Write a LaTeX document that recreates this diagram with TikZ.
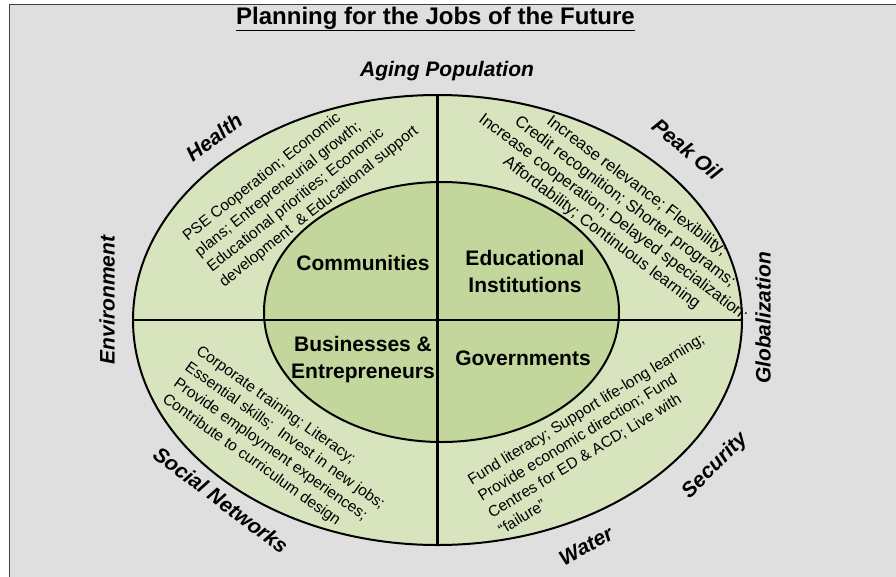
\documentclass[tikz,border=0pt]{standalone}
\usepackage{fontspec}
\setmainfont{Liberation Sans}
\usepackage{tikz}
\usetikzlibrary{shapes.geometric}

\definecolor{bggray}{HTML}{DFDFDF}
\definecolor{ringgreen}{HTML}{D7E4BD}
\definecolor{coregreen}{HTML}{C3D69B}

\tikzset{
	force/.style={font=\fontsize{21}{25}\selectfont\bfseries\itshape},
	actor/.style={font=\fontsize{21}{26.5}\selectfont\bfseries,align=center},
	role/.style={font=\fontsize{15.5}{19.5}\selectfont,inner sep=0pt},
	divider/.style={line width=2.5pt},
}

\begin{document}
\begin{tikzpicture}[x=1pt,y=-1pt]
			\useasboundingbox (0,0) rectangle (896,576);
			\filldraw[fill=bggray,draw=black!75,line width=1.5pt] (9.5,4.5) rectangle (905,585);

			\node[ellipse,draw,line width=2pt,fill=ringgreen,outer sep=0pt,inner sep=0pt,minimum width=609pt,minimum height=450pt] (ring) at (437.5,320) {};
			\node[ellipse,draw,line width=2pt,fill=coregreen,outer sep=0pt,inner sep=0pt,minimum width=355pt,minimum height=260pt] (core) at (441.5,312) {};
			\draw[divider] (ring.north) -- (ring.south);
			\draw[divider] (ring.west) -- (ring.east);

			\node[font=\fontsize{24}{28}\selectfont\bfseries] (title) at (435.5,19) {\underline{Planning for the Jobs of the Future}};

			\node[force] (aging) at (447,71) {Aging Population};
			\node[force,rotate=37] (health) at (214,137) {Health};
			\node[force,rotate=-40] (peakoil) at (687,149) {Peak Oil};
			\node[force,rotate=90] (environment) at (107,300) {Environment};
			\node[force,rotate=90] (globalization) at (763,318) {Globalization};
			\node[force,rotate=-37] (socialnet) at (221,500) {Social Networks};
			\node[force,rotate=29] (water) at (586,546) {Water};
			\node[force,rotate=45] (security) at (715,466) {Security};

			\node[actor] (communities) at (363,263) {Communities};
			\node[actor] (educational) at (525,271.5) {Educational\\Institutions};
			\node[actor] (businesses) at (363,359.5) {Businesses \&\\Entrepreneurs};
			\node[actor] (governments) at (523,358) {Governments};

			\node[role,rotate=38.5,align=left] (commrole) at (301,184) {PSE Cooperation; Economic\\plans; Entrepreneurial growth;\\Educational priorities; Economic\\development \ \& Educational support};
			\node[role,font=\fontsize{16.5}{19.5}\selectfont,rotate=-37,align=center] (edurole) at (619,210) {Increase relevance; Flexibility;\\Credit recognition; Shorter programs;\\Increase cooperation; Delayed specialization;\\Affordability; Continuous learning};
			\node[role,rotate=-35.5,align=left] (busrole) at (279,444) {Corporate training; Literacy;\\Essential skills; \ Invest in new jobs;\\Provide employment experiences;\\Contribute to curriculum design};
			\node[role,rotate=31.5,align=left] (govrole) at (601,434) {Fund literacy; Support life-long learning;\\Provide economic direction; Fund\\Centres for ED \& ACD; Live with\\“failure”};
		\end{tikzpicture}
\end{document}
